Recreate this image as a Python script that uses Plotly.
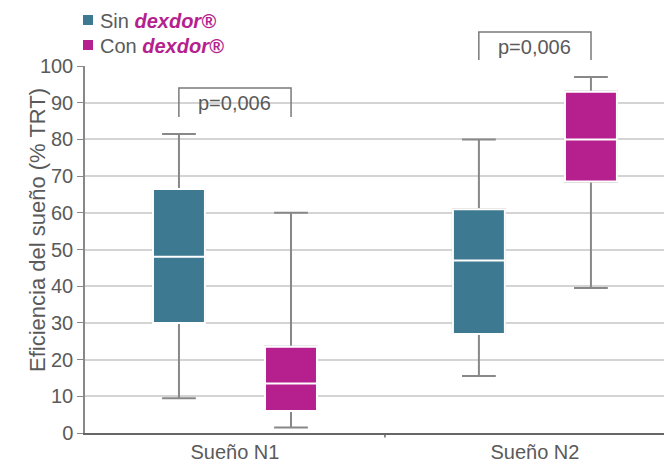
import plotly.graph_objects as go

categories = ["Sueño N1", "Sueño N2"]
series_names = ["Sin", "Con"]
brand = "dexdor®"

sin_low = [9.5, 15.5]
sin_q1 = [30, 27]
sin_median = [48, 47]
sin_q3 = [66.5, 61]
sin_high = [81.5, 80]

con_low = [1.5, 39.5]
con_q1 = [6, 68.5]
con_median = [13.5, 80]
con_q3 = [23.5, 93]
con_high = [60, 97]

p_values = ["p=0,006", "p=0,006"]
y_title = "Eficiencia del sueño (% TRT)"

y_ticks = list(range(0, 101, 10))

TEAL = "#3d7a91"
MAGENTA = "#b51f8e"
GRAY = "#888888"
TXT = "#5a5a5a"
FONT = "Liberation Sans, Arial, sans-serif"

fig = go.Figure()

series = [
    ("sin", TEAL, sin_low, sin_q1, sin_median, sin_q3, sin_high, series_names[0]),
    ("con", MAGENTA, con_low, con_q1, con_median, con_q3, con_high, series_names[1]),
]

# page has an 8px body margin; geometry below is in page pixels
OFF = 8
PAGE_W, PAGE_H = 672, 462
PL, PT, PB = 85, 66, 433          # plot left / top / bottom in page px
W, H = PAGE_W - OFF, PAGE_H - OFF
L, T = PL - OFF, PT - OFF
B = H - (PB - OFF)
PW, PH = W - L, H - T - B
px = lambda v: (v - PL) / PW
py = lambda v: (PB - v) / PH

for k, (grp, col, lo, q1, med, q3, hi, name) in enumerate(series):
    fig.add_trace(go.Box(
        x=categories, q1=q1, median=q1, q3=q3, lowerfence=lo, upperfence=hi,
        offsetgroup=grp, line=dict(color=GRAY, width=2), fillcolor="rgba(0,0,0,0)",
        whiskerwidth=0.65, showlegend=False, hoverinfo="skip",
    ))
    fig.add_trace(go.Box(
        x=categories, q1=q1, median=med, q3=q3, lowerfence=q1, upperfence=q3,
        offsetgroup=grp, line=dict(color="white", width=2), fillcolor=col,
        whiskerwidth=0, showlegend=False, name=name,
    ))
    # custom legend
    yc = 20 + 25 * k
    fig.add_shape(type="rect", xref="paper", yref="paper",
                  x0=px(83), x1=px(93), y0=py(yc - 5), y1=py(yc + 5),
                  fillcolor=col, line=dict(width=0))
    fig.add_annotation(x=px(98), y=py(yc + 1), xref="paper", yref="paper", xanchor="left",
                       yanchor="middle", showarrow=False,
                       text=f"{name} <b><i><span style='color:{MAGENTA}'>{brand}</span></i></b>",
                       font=dict(size=20, color=TXT, family=FONT))

# y axis title as rotated annotation
fig.add_annotation(x=px(37), y=py(230), xref="paper", yref="paper", textangle=-90,
                   text=y_title, showarrow=False, xanchor="center", yanchor="middle",
                   font=dict(size=22, color=TXT, family=FONT))

# p-value brackets
off = 0.187
for i, (p, ytop, ybot) in enumerate([(p_values[0], py(88), py(117)), (p_values[1], py(32), py(60))]):
    fig.add_shape(type="path", xref="x", yref="paper",
                  path=f"M {i-off},{ybot} L {i-off},{ytop} L {i+off},{ytop} L {i+off},{ybot}",
                  line=dict(color="#7a7a7a", width=1.5))
    fig.add_annotation(x=i, y=ytop - 0.006, xref="x", yref="paper", text=p, showarrow=False,
                       yanchor="top", font=dict(size=20, color=TXT, family=FONT))

# divider tick at category boundary
fig.add_shape(type="line", xref="x", yref="paper", x0=0.5, x1=0.5, y0=0, y1=-0.012,
              line=dict(color="#666", width=1.5))

fig.update_layout(
    width=W, height=H,
    margin=dict(l=L, r=0, t=T, b=B, pad=0),
    paper_bgcolor="white", plot_bgcolor="white",
    boxmode="group", boxgap=0.253, boxgroupgap=0.536,
    font=dict(family=FONT, color=TXT, size=20),
    showlegend=False,
)

fig.update_xaxes(
    type="category", range=[-0.5, 1.457], showgrid=False, automargin=False,
    showline=True, linecolor="#666", linewidth=1.5, ticks="",
    tickfont=dict(size=20, color=TXT), fixedrange=True,
)
fig.update_yaxes(
    range=[0, 100], tickvals=y_ticks, showgrid=True, gridcolor="#d4d4d4", gridwidth=1.5,
    showline=True, linecolor=GRAY, linewidth=1.5, ticks="outside", ticklen=6, tickcolor=GRAY,
    tickfont=dict(size=20, color=TXT), zeroline=False, automargin=False,
)

fig.write_html("out.html")
